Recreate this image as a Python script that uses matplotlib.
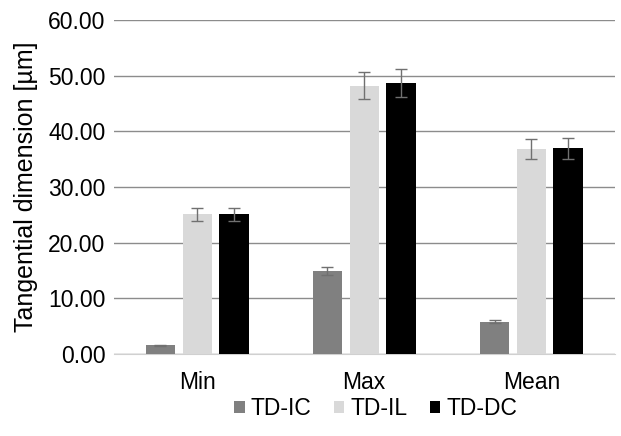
import numpy as np
import matplotlib.pyplot as plt

categories = ["Min", "Max", "Mean"]
series = ["TD-IC", "TD-IL", "TD-DC"]
td_ic = [1.6, 14.9, 5.8]
td_il = [25.1, 48.2, 36.8]
td_dc = [25.1, 48.7, 37.0]
err_ic = [0.1, 0.7, 0.3]
err_il = [1.2, 2.4, 1.85]
err_dc = [1.2, 2.45, 1.9]
colors = ["#808080", "#d9d9d9", "#000000"]

plt.rcParams['font.family'] = ['Liberation Sans', 'DejaVu Sans']
fs = 16.5

fig = plt.figure(figsize=(6.21, 4.36), dpi=100)
ax = fig.add_axes([0.183, 0.188, 0.807, 0.766])

x = np.arange(len(categories))
w = 0.175
step = 0.22
for i, (vals, errs) in enumerate(zip([td_ic, td_il, td_dc], [err_ic, err_il, err_dc])):
    ax.bar(x + (i - 1) * step, vals, w, color=colors[i], label=series[i], zorder=3,
           yerr=errs, error_kw=dict(ecolor="#707070", elinewidth=1, capsize=4, capthick=1))

ax.set_ylim(0, 60)
ax.set_xlim(-0.5, 2.5)
ax.set_yticks(np.arange(0, 61, 10))
ax.set_yticklabels([f"{v:.2f}" for v in np.arange(0, 61, 10)], fontsize=fs)
ax.set_xticks(x)
ax.set_xticklabels(categories, fontsize=fs)
ax.tick_params(axis="y", length=0, pad=6)
ax.tick_params(axis="x", length=0, pad=12)
ax.grid(axis="y", color="#8c8c8c", linewidth=1, zorder=0)
for s in ["top", "right", "left"]:
    ax.spines[s].set_visible(False)
ax.spines["bottom"].set_color("#d0d0d0")
ax.set_ylabel("Tangential dimension [µm]", fontsize=18, labelpad=7)

fig.legend(*ax.get_legend_handles_labels(), loc="center", bbox_to_anchor=(0.605, 0.062),
           ncol=3, frameon=False, fontsize=fs, handlelength=0.45, handleheight=0.45,
           handletextpad=0.25, columnspacing=1.0)

fig.savefig("out.png", dpi=100)
